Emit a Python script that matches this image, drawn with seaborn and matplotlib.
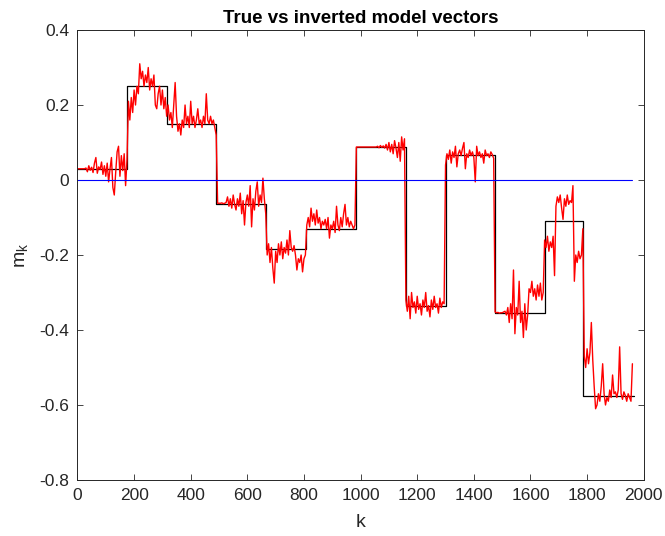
import numpy as np
import matplotlib
matplotlib.use("Agg")
import matplotlib.pyplot as plt
import seaborn as sns

# True model: piecewise-constant blocks (start index of each block, then block value)
block_starts = [0, 176, 316, 490, 666, 808, 983, 1159, 1300, 1475, 1650, 1786, 1965]
block_values = [0.03, 0.25, 0.15, -0.065, -0.185, -0.13, 0.088, -0.335, 0.068,
                -0.355, -0.11, -0.575]

# Inverted model, sampled every 5 indices from k = 0 to k = 1960
k_inv = list(range(0, 1961, 5))
m_inverted = [
    0.03, 0.03, 0.03, 0.03, 0.03, 0.03, 0.032, 0.022, 0.038, 0.026,
    0.034, 0.02, 0.045, 0.06, 0.018, 0.035, 0.028, 0.048, 0.015, 0.038,
    0.01, 0.045, -0.005, 0.03, 0.06, -0.02, -0.04, 0.02, 0.075, 0.09,
    0.01, 0.065, 0.025, 0.07, -0.015, 0.055, 0.21, 0.16, 0.22, 0.18,
    0.24, 0.2, 0.25, 0.23, 0.31, 0.27, 0.29, 0.25, 0.28, 0.26,
    0.3, 0.24, 0.27, 0.25, 0.28, 0.2, 0.19, 0.23, 0.25, 0.2,
    0.24, 0.19, 0.22, 0.17, 0.2, 0.16, 0.18, 0.14, 0.2, 0.26,
    0.17, 0.13, 0.15, 0.12, 0.16, 0.14, 0.2, 0.15, 0.17, 0.14,
    0.21, 0.15, 0.17, 0.14, 0.16, 0.19, 0.15, 0.16, 0.14, 0.17,
    0.15, 0.23, 0.16, 0.15, 0.17, 0.15, 0.16, 0.14, 0.12, -0.062,
    -0.062, -0.062, -0.061, -0.063, -0.062, -0.06, -0.045, -0.07, -0.05, -0.075,
    -0.04, -0.065, -0.08, -0.05, -0.07, -0.035, -0.09, -0.055, -0.12, -0.06,
    -0.04, -0.07, -0.015, -0.125, -0.05, -0.08, -0.03, -0.005, -0.07, -0.04,
    -0.06, 0.005, -0.05, -0.09, -0.2, -0.17, -0.22, -0.18, -0.235, -0.275,
    -0.19, -0.22, -0.17, -0.2, -0.165, -0.21, -0.18, -0.195, -0.16, -0.2,
    -0.135, -0.18, -0.19, -0.175, -0.2, -0.24, -0.21, -0.22, -0.2, -0.245,
    -0.21, -0.2, -0.12, -0.1, -0.125, -0.075, -0.11, -0.09, -0.12, -0.08,
    -0.115, -0.1, -0.13, -0.11, -0.12, -0.105, -0.13, -0.1, -0.155, -0.12,
    -0.13, -0.11, -0.14, -0.07, -0.12, -0.135, -0.1, -0.125, -0.09, -0.065,
    -0.12, -0.1, -0.125, -0.11, -0.12, -0.13, -0.12, 0.088, 0.088, 0.088,
    0.088, 0.088, 0.088, 0.088, 0.088, 0.088, 0.088, 0.088, 0.088, 0.088,
    0.088, 0.088, 0.09, 0.086, 0.092, 0.087, 0.091, 0.085, 0.095, 0.08,
    0.1, 0.075, 0.095, 0.07, 0.105, 0.085, 0.06, 0.1, 0.05, 0.115,
    0.08, 0.11, -0.32, -0.35, -0.31, -0.37, -0.3, -0.34, -0.325, -0.355,
    -0.31, -0.345, -0.33, -0.36, -0.32, -0.34, -0.3, -0.35, -0.335, -0.365,
    -0.32, -0.345, -0.31, -0.34, -0.33, -0.355, -0.315, -0.34, -0.325, -0.33,
    0.04, 0.07, 0.055, 0.08, 0.045, 0.075, 0.06, 0.09, 0.035, 0.07,
    0.08, 0.065, 0.085, 0.1, 0.03, 0.07, 0.06, 0.08, 0.065, 0.075,
    0.06, -0.005, 0.09, 0.065, 0.075, 0.06, 0.07, 0.045, 0.08, 0.065,
    0.07, 0.06, 0.075, 0.068, 0.058, -0.352, -0.354, -0.353, -0.355, -0.354,
    -0.354, -0.352, -0.35, -0.36, -0.34, -0.38, -0.33, -0.37, -0.24, -0.41,
    -0.34, -0.36, -0.27, -0.38, -0.35, -0.42, -0.33, -0.4, -0.36, -0.29,
    -0.3, -0.27, -0.31, -0.29, -0.32, -0.28, -0.31, -0.275, -0.32, -0.3,
    -0.16, -0.18, -0.15, -0.19, -0.165, -0.18, -0.15, -0.255, -0.07, -0.045,
    -0.06, -0.04, -0.075, -0.105, -0.05, -0.07, -0.04, -0.065, -0.055, -0.06,
    -0.015, -0.27, -0.2, -0.22, -0.19, -0.21, -0.2, -0.13, -0.47, -0.5,
    -0.45, -0.49, -0.46, -0.38, -0.48, -0.55, -0.61, -0.6, -0.57, -0.59,
    -0.55, -0.49, -0.57, -0.6, -0.58, -0.59, -0.56, -0.58, -0.52, -0.57,
    -0.565, -0.58, -0.56, -0.445, -0.57, -0.585, -0.565, -0.575, -0.59, -0.57,
    -0.58, -0.59, -0.49,
]

# Starting model: all zeros over the same index range
k_start = [0, 1960]
m_start = [0.0, 0.0]

x_ticks = [0, 200, 400, 600, 800, 1000, 1200, 1400, 1600, 1800, 2000]
y_ticks = [-0.8, -0.6, -0.4, -0.2, 0, 0.2, 0.4]
y_ticklabels = ["-0.8", "-0.6", "-0.4", "-0.2", "0", "0.2", "0.4"]
x_ticklabels = [str(v) for v in x_ticks]

sns.set_style("ticks", {
    "xtick.direction": "in",
    "ytick.direction": "in",
    "axes.edgecolor": "#262626",
})
plt.rcParams["font.family"] = ["Liberation Sans", "DejaVu Sans"]

fig = plt.figure(figsize=(6.65, 5.36), dpi=100)
ax = fig.add_axes([0.1165, 0.1045, 0.8515, 0.8395])

true_y = block_values + [block_values[-1]]
sns.lineplot(x=block_starts, y=true_y, ax=ax, color="black", linewidth=0.9,
             drawstyle="steps-post", sort=False, estimator=None)
sns.lineplot(x=k_inv, y=m_inverted, ax=ax, color="#ff0000", linewidth=1.0,
             sort=False, estimator=None)
sns.lineplot(x=k_start, y=m_start, ax=ax, color="#0000ff", linewidth=0.8,
             sort=False, estimator=None)

ax.set_xlim(0, 2000)
ax.set_ylim(-0.8, 0.4)
ax.set_xticks(x_ticks)
ax.set_xticklabels(x_ticklabels)
ax.set_yticks(y_ticks)
ax.set_yticklabels(y_ticklabels)
ax.tick_params(axis="both", which="both", direction="in", top=True, right=True,
               length=4, width=0.6, colors="#262626", labelsize=12.5, pad=6)
for side in ax.spines.values():
    side.set_visible(True)
    side.set_linewidth(0.7)
    side.set_color("#262626")

ax.set_title("True vs inverted model vectors", fontsize=13.5, fontweight="bold",
             color="black", pad=5)
ax.set_xlabel("k", fontsize=14, color="#262626", labelpad=8)
ax.set_ylabel("m$_\\mathregular{k}$", fontsize=14, color="#262626", labelpad=6)

fig.savefig("out.png", dpi=100, facecolor="white")
